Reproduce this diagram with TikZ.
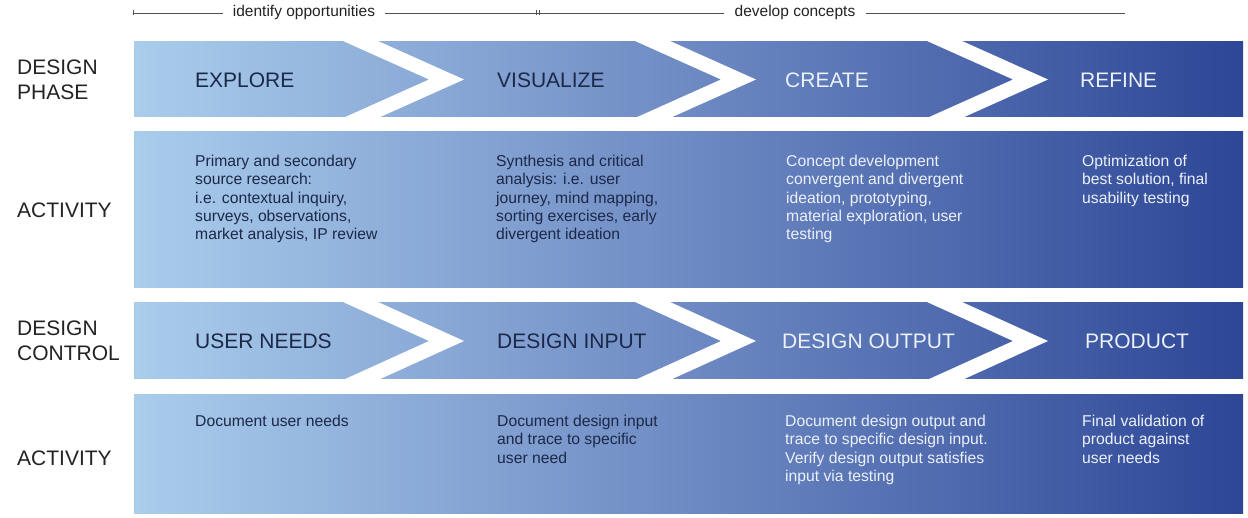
\documentclass[tikz,border=0pt]{standalone}
\usepackage{fontspec}
\setmainfont{Liberation Sans}
\definecolor{cL}{RGB}{170,205,236}
\definecolor{cM}{RGB}{110,138,195}
\definecolor{cR}{RGB}{45,70,150}
\definecolor{dtext}{RGB}{28,40,72}
\definecolor{ltext}{RGB}{236,241,250}
\definecolor{lab}{RGB}{35,35,35}
\definecolor{topline}{RGB}{80,80,80}
\tikzset{
  barshade/.style={left color=cL, right color=cR, middle color=cM, draw=none},
  band/.style={fill=white, draw=none},
  sidelabel/.style={anchor=west, align=left, inner sep=0pt, text=lab, font=\fontsize{21}{25}\selectfont},
  phase/.style={anchor=west, inner sep=0pt, font=\fontsize{21}{25}\selectfont},
  activity/.style={anchor=north west, align=left, inner sep=0pt, font=\fontsize{15.7}{18.3}\selectfont},
  toptext/.style={inner sep=0pt, text=lab, font=\fontsize{15.5}{19}\selectfont},
  bracket/.style={draw=topline, line width=0.7pt}
}
\newcommand{\chev}[3]{% x of top-left of band, top y, bottom y
  \fill[band] (#1,#2) -- ({#1+35},#2) -- ({#1+121},{(#2+#3)/2}) -- ({#1+35},#3) -- (#1,#3) -- ({#1+86},{(#2+#3)/2}) -- cycle;}
\begin{document}
\begin{tikzpicture}[x=1pt,y=-1pt]
\useasboundingbox[fill=white] (0,0) rectangle (1248,518);

% bars
\shade[barshade] (134,42) rectangle (1243,117);
\shade[barshade] (134,132) rectangle (1243,288);
\shade[barshade] (134,303) rectangle (1243,379);
\shade[barshade] (134,395) rectangle (1243,513);
\chev{343}{41}{118}
\chev{635}{41}{118}
\chev{927}{41}{118}
\chev{343}{302}{380}
\chev{635}{302}{380}
\chev{927}{302}{380}

% top bracket
\coordinate (b0) at (133,13);
\coordinate (b1) at (538,13);
\coordinate (b2) at (1125,13);
\node[toptext] (t1) at (304,12) {identify opportunities};
\node[toptext] (t2) at (795,12) {develop concepts};
\draw[bracket] (b0) -- ([xshift=-10pt]t1.west |- b0);
\draw[bracket] ([xshift=10pt]t1.east |- b0) -- (b1);
\draw[bracket] (b1) -- ([xshift=-10pt]t2.west |- b1);
\draw[bracket] ([xshift=10pt]t2.east |- b1) -- (b2);
\draw[bracket] ([yshift=-2.5pt]b0) -- ([yshift=2.5pt]b0);
\draw[bracket] ([xshift=-1.5pt,yshift=-2.5pt]b1) -- ([xshift=-1.5pt,yshift=2.5pt]b1);
\draw[bracket] ([xshift=1.5pt,yshift=-2.5pt]b1) -- ([xshift=1.5pt,yshift=2.5pt]b1);

% side labels
\node[sidelabel] (l1) at (17,79.5) {DESIGN\\PHASE};
\node[sidelabel] (l2) at (17,210) {ACTIVITY};
\node[sidelabel] (l3) at (17,341) {DESIGN\\CONTROL};
\node[sidelabel] (l4) at (17,458) {ACTIVITY};

% design phase
\node[phase, text=dtext] (p1) at (195,80) {EXPLORE};
\node[phase, text=dtext] (p2) at (497,80) {VISUALIZE};
\node[phase, text=ltext] (p3) at (785,80) {CREATE};
\node[phase, text=ltext] (p4) at (1080,80) {REFINE};

% activity 1
\node[activity, text=dtext] (a1) at (195,155) {Primary and secondary\\source research:\\i.e. contextual inquiry,\\surveys, observations,\\market analysis, IP review};
\node[activity, text=dtext] (a2) at (496,155) {Synthesis and critical\\analysis: i.e. user\\journey, mind mapping,\\sorting exercises, early\\divergent ideation};
\node[activity, text=ltext] (a3) at (786,155) {Concept development\\convergent and divergent\\ideation, prototyping,\\material exploration, user\\testing};
\node[activity, text=ltext] (a4) at (1082,155) {Optimization of\\best solution, final\\usability testing};

% design control
\node[phase, text=dtext] (c1) at (195,341) {USER NEEDS};
\node[phase, text=dtext] (c2) at (497,341) {DESIGN INPUT};
\node[phase, text=ltext] (c3) at (782,341) {DESIGN OUTPUT};
\node[phase, text=ltext] (c4) at (1085,341) {PRODUCT};

% activity 2
\node[activity, text=dtext] (d1) at (195,415) {Document user needs};
\node[activity, text=dtext] (d2) at (497,415) {Document design input\\and trace to specific\\user need};
\node[activity, text=ltext] (d3) at (785,415) {Document design output and\\trace to specific design input.\\Verify design output satisfies\\input via testing};
\node[activity, text=ltext] (d4) at (1082,415) {Final validation of\\product against\\user needs};
\end{tikzpicture}
\end{document}
